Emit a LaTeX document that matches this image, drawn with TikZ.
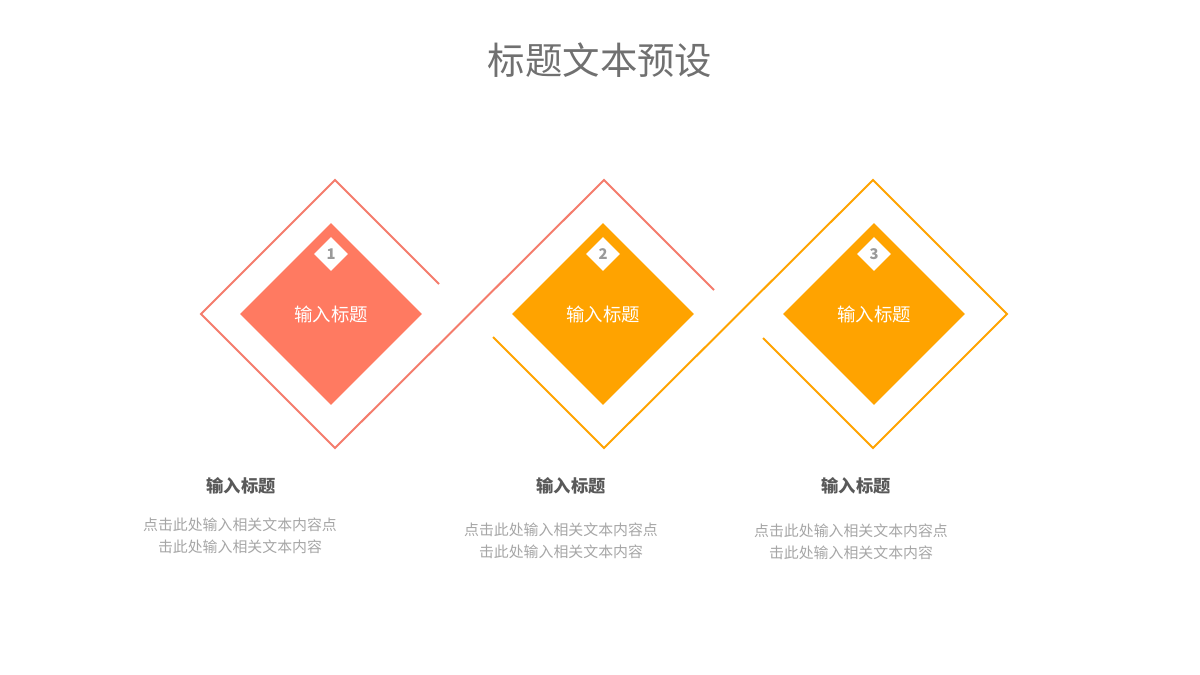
\documentclass[tikz,border=0pt]{standalone}
\usepackage{fontspec}
\newfontfamily\cjk{Noto Sans CJK SC}
\usetikzlibrary{shapes.geometric,positioning,calc}
\definecolor{salmon}{HTML}{FF7A61}
\definecolor{salmonline}{HTML}{F47C6C}
\definecolor{amber}{HTML}{FFA300}
\definecolor{titlegray}{HTML}{707070}
\definecolor{headgray}{HTML}{595959}
\definecolor{bodygray}{HTML}{A6A6A6}
\definecolor{taggray}{HTML}{9A9A9A}

\begin{document}
\begin{tikzpicture}[x=0.025cm,y=-0.025cm,
    main node/.style={diamond,aspect=1,inner sep=0pt,minimum width=4.55cm,minimum height=4.55cm,text=white,font=\cjk\fontsize{13.1}{15}\selectfont},
    tag/.style={diamond,aspect=1,fill=white,inner sep=0pt,minimum width=0.85cm,minimum height=0.85cm,text=taggray,font=\cjk\bfseries\fontsize{10.5}{12}\selectfont},
    head/.style={text=headgray,font=\cjk\bfseries\fontsize{12.3}{14}\selectfont},
    body/.style={text=bodygray,align=center,font=\cjk\fontsize{10.6}{15.6}\selectfont},
    outline/.style={line width=1.4pt,line join=miter}]
            \useasboundingbox (0,0) rectangle (1200,675);
            \node[text=titlegray,font=\cjk\fontsize{26.6}{30}\selectfont] (title) at (600,60) {标题文本预设};

            % outer frames
            \coordinate (o1) at (335,314);
            \coordinate (o2) at (604,314);
            \coordinate (o3) at (873,314);
            \draw[outline,salmonline] ($(o1)+(104,-30)$) -- ($(o1)+(0,-134)$) -- ($(o1)+(-134,0)$) -- ($(o1)+(0,134)$)
                -- ($(o2)+(0,-134)$) -- ($(o2)+(110,-24)$);
            \draw[outline,amber] ($(o2)+(-111,23)$) -- ($(o2)+(0,134)$) -- ($(o3)+(0,-134)$) -- ($(o3)+(134,0)$)
                -- ($(o3)+(0,134)$) -- ($(o3)+(-110,24)$);

            % inner diamonds
            \node[main node,fill=salmon] (d1) at (331,314) {输入标题};
            \node[main node,fill=amber] (d2) at (603,314) {输入标题};
            \node[main node,fill=amber] (d3) at (874,314) {输入标题};
            \node[tag, below=0.35cm of d1.north] (n1) {1};
            \node[tag, below=0.35cm of d2.north] (n2) {2};
            \node[tag, below=0.35cm of d3.north] (n3) {3};

            % captions
            \node[head] (h1) at (241,486) {输入标题};
            \node[head] (h2) at (571,486) {输入标题};
            \node[head] (h3) at (856,486) {输入标题};
            \node[body] (t1) at (240,536) {点击此处输入相关文本内容点\\击此处输入相关文本内容};
            \node[body] (t2) at (561,541) {点击此处输入相关文本内容点\\击此处输入相关文本内容};
            \node[body] (t3) at (851,542) {点击此处输入相关文本内容点\\击此处输入相关文本内容};
        \end{tikzpicture}
\end{document}
